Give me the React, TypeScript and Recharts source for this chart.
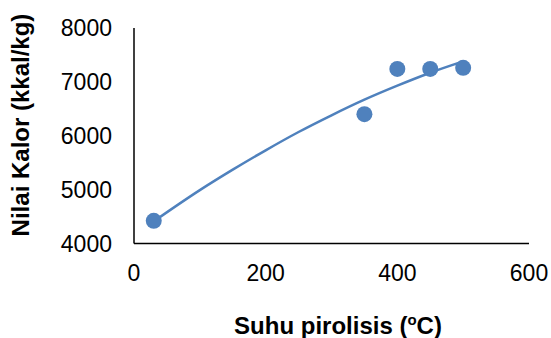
import { ComposedChart, Scatter, Line, XAxis, YAxis, Label } from "recharts"

// measured points (suhu pirolisis °C → nilai kalor kkal/kg)
const suhu = [30, 350, 400, 450, 500]
const nilaiKalor = [4420, 6400, 7240, 7240, 7260]

// polynomial trendline
const trendSuhu = [30, 100, 150, 200, 250, 300, 350, 400, 450, 500]
const trendKalor = [4410, 4990, 5370, 5730, 6070, 6380, 6670, 6930, 7170, 7380]

const xTicks = [0, 200, 400, 600]
const yTicks = [4000, 5000, 6000, 7000, 8000]

const BLUE = "#4F81BD"
const FONT = "'Liberation Sans', Arial, sans-serif"

const points = suhu.map((x, i) => ({ x, y: nilaiKalor[i] }))
const trend = trendSuhu.map((x, i) => ({ x, y: trendKalor[i] }))

function XTitle() {
  return (
    <text x={338} y={334} textAnchor="middle" fontFamily={FONT} fontSize={24} fontWeight="bold" fill="#000">
      Suhu pirolisis (
      <tspan fontSize={15} dy={-9}>o</tspan>
      <tspan dy={9}>C)</tspan>
    </text>
  )
}

function YTitle() {
  return (
    <text
      transform="translate(29,125) rotate(-90)"
      textAnchor="middle"
      fontFamily={FONT}
      fontSize={24}
      fontWeight="bold"
      fill="#000"
    >
      Nilai Kalor (kkal/kg)
    </text>
  )
}

export default function App() {
  const tick = { fontSize: 23, fill: "#000", fontFamily: FONT }
  return (
    <div style={{ position: "absolute", left: 0, top: 0 }}>
      <ComposedChart width={551} height={338} margin={{ top: 28, right: 22, bottom: 0, left: 0 }}>
        <XAxis
          type="number"
          dataKey="x"
          domain={[0, 600]}
          ticks={xTicks}
          tick={tick}
          tickLine={false}
          tickSize={0}
          tickMargin={21}
          height={94.5}
          axisLine={{ stroke: "#000", strokeWidth: 1.5 }}
          interval={0}
        >
          <Label content={() => <XTitle />} />
        </XAxis>
        <YAxis
          type="number"
          dataKey="y"
          domain={[4000, 8000]}
          ticks={yTicks}
          tick={tick}
          tickLine={false}
          tickSize={0}
          tickMargin={22}
          width={134}
          axisLine={{ stroke: "#000", strokeWidth: 1.5 }}
          interval={0}
        >
          <Label content={() => <YTitle />} />
        </YAxis>
        <Line
          data={trend}
          dataKey="y"
          type="monotone"
          stroke={BLUE}
          strokeWidth={2.5}
          dot={false}
          activeDot={false}
          isAnimationActive={false}
        />
        <Scatter data={points} dataKey="y" fill={BLUE} isAnimationActive={false} shape={(p: any) => <circle cx={p.cx} cy={p.cy} r={8} fill={BLUE} />} />
      </ComposedChart>
    </div>
  )
}
